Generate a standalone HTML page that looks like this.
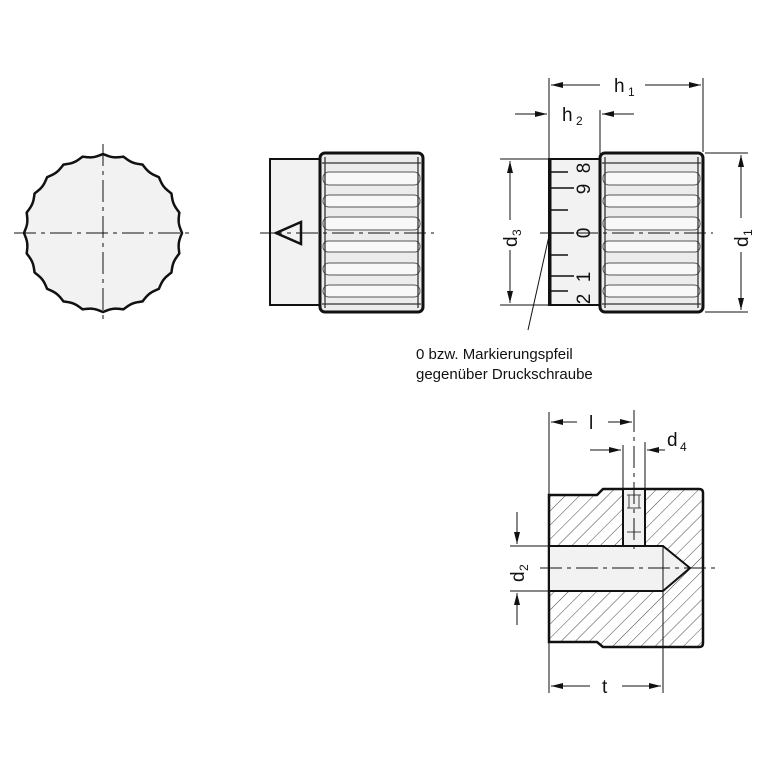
<!DOCTYPE html>
<html><head><style>body{margin:0;background:#fff}svg{display:block}text{font-family:"Liberation Sans",sans-serif;fill:#111}</style></head><body>
<svg width="767" height="767" viewBox="0 0 767 767" xmlns="http://www.w3.org/2000/svg">
<defs>
<pattern id="h" width="10" height="10" patternUnits="userSpaceOnUse" patternTransform="rotate(45)"><line x1="0" y1="0" x2="0" y2="10" stroke="#333" stroke-width="0.9"/></pattern>
<marker id="a" markerWidth="12" markerHeight="8" refX="12" refY="4" orient="auto" markerUnits="userSpaceOnUse"><path d="M0,1 L12,4 L0,7 z" fill="#111"/></marker>
<g id="knurl">
<rect x="0" y="0" width="103" height="159" rx="5" fill="#ececec" stroke="#111" stroke-width="3"/>
<g fill="#f8f8f8" stroke="#555" stroke-width="1">
<rect x="3" y="19" width="97" height="13" rx="6"/>
<rect x="3" y="42" width="97" height="12" rx="6"/>
<rect x="3" y="64" width="97" height="13" rx="6"/>
<rect x="3" y="88" width="97" height="11" rx="5"/>
<rect x="3" y="110" width="97" height="12" rx="6"/>
<rect x="3" y="132" width="97" height="12" rx="6"/>
</g>
<g stroke="#333" stroke-width="1.3" fill="none">
<line x1="2" y1="10" x2="101" y2="10"/><line x1="2" y1="151" x2="101" y2="151"/>
<line x1="5" y1="4" x2="5" y2="155"/><line x1="98" y1="4" x2="98" y2="155"/>
</g></g>
</defs>
<path id="wc" fill="#f2f2f2" stroke="#111" stroke-width="2.5" d="" />
<script>
(function(){var cx=103,cy=233,R=79,n=24,d="";for(var i=0;i<=720;i++){var t=i/720*2*Math.PI;var r=R-2.5*Math.abs(Math.sin(n*t/2));var x=cx+r*Math.sin(t),y=cy-r*Math.cos(t);d+=(i?"L":"M")+x.toFixed(2)+","+y.toFixed(2);}document.getElementById("wc").setAttribute("d",d+"Z");})();
</script>
<g stroke="#111" stroke-width="1" stroke-dasharray="22,5,4,5">
<line x1="14" y1="233" x2="193" y2="233"/><line x1="103" y1="144" x2="103" y2="322"/>
</g>
<rect x="270" y="159" width="52" height="146" fill="#f2f2f2" stroke="#111" stroke-width="2"/>
<use href="#knurl" x="320" y="153"/>
<path d="M276,233 L301,222 L301,244 Z" fill="none" stroke="#111" stroke-width="2.5"/>
<g stroke="#111" stroke-width="1" stroke-dasharray="22,5,4,5"><line x1="260" y1="233" x2="434" y2="233"/></g>
<rect x="549" y="159" width="51" height="146" fill="#f2f2f2" stroke="#111" stroke-width="2"/>
<line x1="550" y1="159" x2="550" y2="305" stroke="#111" stroke-width="3"/>
<g stroke="#111" stroke-width="1.5">
<line x1="550" y1="172" x2="568" y2="172"/><line x1="550" y1="188" x2="574" y2="188"/><line x1="550" y1="210" x2="568" y2="210"/>
<line x1="550" y1="233" x2="574" y2="233"/><line x1="550" y1="255" x2="568" y2="255"/><line x1="550" y1="276" x2="574" y2="276"/><line x1="550" y1="291" x2="568" y2="291"/>
</g>
<g font-size="19">
<text transform="translate(590,168) rotate(-90)" text-anchor="middle">8</text>
<text transform="translate(590,189) rotate(-90)" text-anchor="middle">9</text>
<text transform="translate(590,233) rotate(-90)" text-anchor="middle">0</text>
<text transform="translate(590,277) rotate(-90)" text-anchor="middle">1</text>
<text transform="translate(590,299) rotate(-90)" text-anchor="middle">2</text>
</g>
<use href="#knurl" x="600" y="153"/>
<g stroke="#111" stroke-width="1" stroke-dasharray="22,5,4,5"><line x1="540" y1="233" x2="713" y2="233"/></g>
<g stroke="#111" stroke-width="1" fill="none">
<line x1="549" y1="78" x2="549" y2="158"/><line x1="703" y1="78" x2="703" y2="152"/><line x1="600" y1="110" x2="600" y2="158"/>
<line x1="600" y1="85" x2="551" y2="85" marker-end="url(#a)"/><line x1="645" y1="85" x2="701" y2="85" marker-end="url(#a)"/>
<line x1="515" y1="114" x2="547" y2="114" marker-end="url(#a)"/><line x1="634" y1="114" x2="602" y2="114" marker-end="url(#a)"/>
<line x1="500" y1="159" x2="548" y2="159"/><line x1="500" y1="305" x2="548" y2="305"/>
<line x1="510" y1="220" x2="510" y2="161" marker-end="url(#a)"/><line x1="510" y1="250" x2="510" y2="303" marker-end="url(#a)"/>
<line x1="705" y1="153" x2="748" y2="153"/><line x1="705" y1="312" x2="748" y2="312"/>
<line x1="741" y1="218" x2="741" y2="155" marker-end="url(#a)"/><line x1="741" y1="252" x2="741" y2="310" marker-end="url(#a)"/>
<line x1="549" y1="236" x2="528" y2="330"/>
</g>
<text x="614" y="92" font-size="19">h</text><text x="628" y="96" font-size="12">1</text>
<text x="562" y="121" font-size="19">h</text><text x="576" y="125" font-size="12">2</text>
<text transform="translate(517,247) rotate(-90)" font-size="19">d</text><text transform="translate(521,236) rotate(-90)" font-size="12">3</text>
<text transform="translate(748,247) rotate(-90)" font-size="19">d</text><text transform="translate(752,236) rotate(-90)" font-size="12">1</text>
<text x="416" y="359" font-size="15">0 bzw. Markierungspfeil</text>
<text x="416" y="379" font-size="15">gegenüber Druckschraube</text>
<path d="M549,495 L597,495 L603,489 L699,489 Q703,489 703,493 L703,643 Q703,647 699,647 L603,647 L597,642 L549,642 Z" fill="url(#h)" stroke="#111" stroke-width="2.5"/>
<path d="M549,546 L663,546 L690,568 L663,591 L549,591 Z" fill="#f2f2f2" stroke="#111" stroke-width="2"/>
<line x1="663" y1="546" x2="663" y2="591" stroke="#111" stroke-width="1"/>
<rect x="623" y="489" width="22" height="57" fill="#f2f2f2" stroke="#111" stroke-width="2"/>
<g stroke="#444" stroke-width="1"><line x1="627" y1="495" x2="641" y2="495"/><line x1="627" y1="508" x2="641" y2="508"/><line x1="627" y1="532" x2="641" y2="532"/><line x1="629" y1="495" x2="629" y2="508"/><line x1="639" y1="495" x2="639" y2="508"/></g>
<g stroke="#111" stroke-width="1" stroke-dasharray="22,5,4,5"><line x1="540" y1="568" x2="715" y2="568"/><line x1="634" y1="410" x2="634" y2="552"/></g>
<g stroke="#111" stroke-width="1" fill="none">
<line x1="549" y1="412" x2="549" y2="494"/><line x1="663" y1="592" x2="663" y2="693"/><line x1="549" y1="643" x2="549" y2="693"/>
<line x1="577" y1="422" x2="551" y2="422" marker-end="url(#a)"/><line x1="608" y1="422" x2="632" y2="422" marker-end="url(#a)"/>
<line x1="623" y1="445" x2="623" y2="489"/><line x1="645" y1="442" x2="645" y2="489"/>
<line x1="590" y1="450" x2="621" y2="450" marker-end="url(#a)"/><line x1="665" y1="450" x2="647" y2="450" marker-end="url(#a)"/>
<line x1="510" y1="546" x2="548" y2="546"/><line x1="510" y1="591" x2="548" y2="591"/>
<line x1="517" y1="512" x2="517" y2="544" marker-end="url(#a)"/><line x1="517" y1="625" x2="517" y2="593" marker-end="url(#a)"/>
<line x1="590" y1="686" x2="551" y2="686" marker-end="url(#a)"/><line x1="622" y1="686" x2="661" y2="686" marker-end="url(#a)"/>
</g>
<text x="589" y="429" font-size="19">l</text>
<text x="667" y="446" font-size="19">d</text><text x="680" y="451" font-size="12">4</text>
<text transform="translate(524,582) rotate(-90)" font-size="19">d</text><text transform="translate(528,571) rotate(-90)" font-size="12">2</text>
<text x="602" y="693" font-size="19">t</text>
</svg>
</body></html>
